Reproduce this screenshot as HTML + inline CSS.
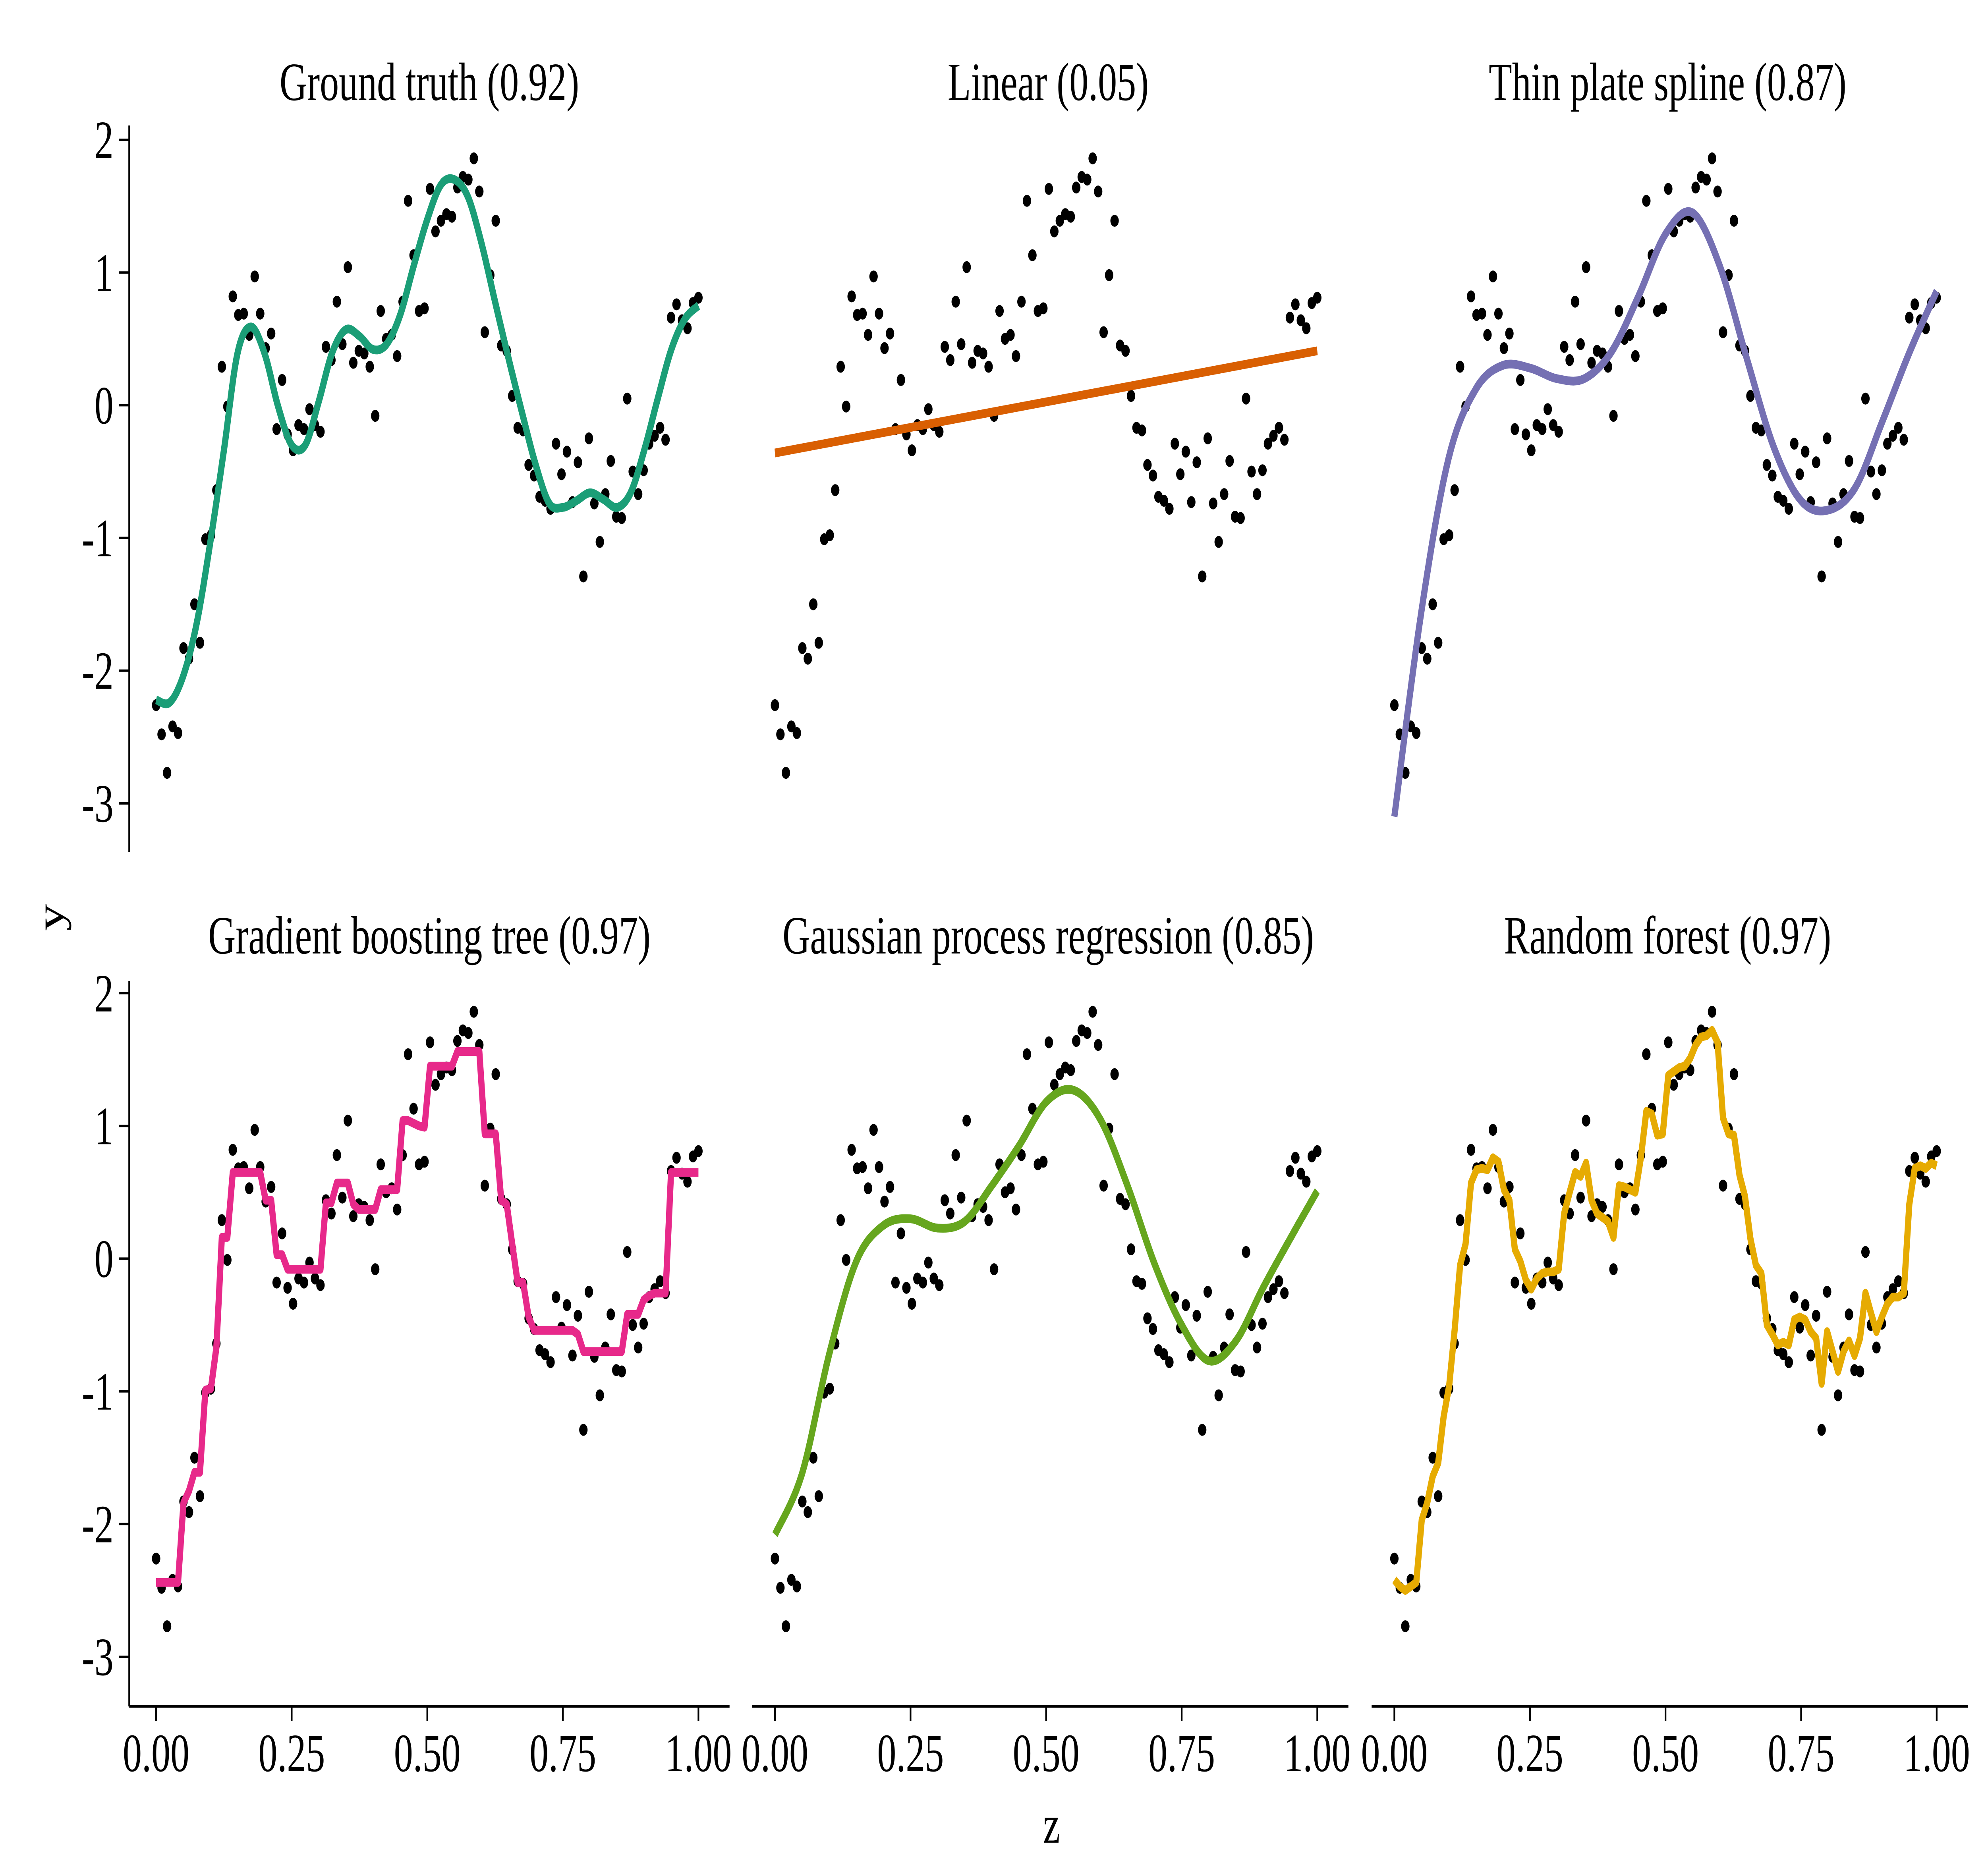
<!DOCTYPE html>
<html><head><meta charset="utf-8"><style>
html,body{margin:0;padding:0;background:#fff;width:100%;height:100%;overflow:hidden;}
svg{display:block;width:100vw;height:100vh;}
text{font-family:"Liberation Serif",serif;fill:#000;}
</style></head><body>
<svg id="chart" xmlns="http://www.w3.org/2000/svg" viewBox="0 0 7086 4724" preserveAspectRatio="none">
<rect width="7086" height="4724" fill="#fff"/>
<text x="0" y="0" font-size="136" text-anchor="middle" transform="translate(225,2310) rotate(-90)">y</text>
<text x="3752" y="4640" font-size="136" text-anchor="middle">z</text>
<g id="layer"></g>
</svg>
<script>
const yPts = [-2.26,-2.48,-2.77,-2.42,-2.47,-1.83,-1.91,-1.50,-1.79,-1.01,-0.98,-0.64,0.29,-0.01,0.82,0.68,0.69,0.53,0.97,0.69,0.43,0.54,-0.18,0.19,-0.22,-0.34,-0.15,-0.18,-0.03,-0.15,-0.20,0.44,0.34,0.78,0.46,1.04,0.32,0.41,0.39,0.29,-0.08,0.71,0.50,0.53,0.37,0.78,1.54,1.13,0.71,0.73,1.63,1.31,1.39,1.44,1.42,1.64,1.72,1.70,1.86,1.61,0.55,0.98,1.39,0.45,0.41,0.07,-0.17,-0.19,-0.45,-0.53,-0.69,-0.72,-0.78,-0.29,-0.52,-0.35,-0.73,-0.43,-1.29,-0.25,-0.74,-1.03,-0.67,-0.42,-0.84,-0.85,0.05,-0.50,-0.67,-0.49,-0.29,-0.23,-0.17,-0.26,0.66,0.76,0.64,0.58,0.77,0.81];
const gtZ = [0,0.025,0.05,0.075,0.1,0.125,0.15,0.175,0.2,0.225,0.25,0.275,0.3,0.325,0.35,0.375,0.4,0.425,0.45,0.475,0.5,0.525,0.55,0.575,0.6,0.625,0.65,0.675,0.7,0.725,0.75,0.775,0.8,0.825,0.85,0.875,0.9,0.925,0.95,0.975,1.0];
const gtY = [-2.22,-2.24,-2.04,-1.64,-1.03,-0.34,0.39,0.59,0.39,-0.01,-0.30,-0.30,0.03,0.40,0.57,0.52,0.42,0.46,0.68,1.05,1.40,1.66,1.70,1.57,1.22,0.78,0.35,-0.06,-0.45,-0.74,-0.77,-0.72,-0.66,-0.71,-0.77,-0.66,-0.34,0.05,0.42,0.65,0.75];
const linZ = [0,1];
const linY = [-0.36,0.41];
const tpsZ = [0,0.05,0.1,0.15,0.2,0.25,0.3,0.35,0.4,0.45,0.5,0.55,0.6,0.65,0.7,0.75,0.8,0.85,0.9,0.95,1.0];
const tpsY = [-3.10,-1.55,-0.40,0.12,0.30,0.28,0.20,0.20,0.40,0.82,1.29,1.45,1.05,0.35,-0.32,-0.72,-0.79,-0.62,-0.12,0.40,0.86];
const gbtY = [-2.44,-2.44,-2.44,-2.44,-2.44,-1.84,-1.75,-1.61,-1.61,-0.99,-0.98,-0.67,0.16,0.16,0.65,0.65,0.65,0.65,0.65,0.65,0.44,0.44,0.03,0.03,-0.08,-0.08,-0.08,-0.08,-0.08,-0.08,-0.08,0.42,0.42,0.57,0.57,0.57,0.41,0.37,0.37,0.37,0.37,0.52,0.52,0.52,0.52,1.04,1.04,1.02,1.00,0.99,1.45,1.45,1.45,1.45,1.45,1.56,1.56,1.56,1.56,1.56,0.94,0.94,0.94,0.44,0.41,0.11,-0.18,-0.18,-0.44,-0.54,-0.54,-0.54,-0.54,-0.54,-0.54,-0.54,-0.54,-0.57,-0.70,-0.70,-0.70,-0.70,-0.70,-0.70,-0.70,-0.70,-0.42,-0.42,-0.42,-0.31,-0.28,-0.26,-0.26,-0.26,0.65,0.65,0.65,0.65,0.65,0.65];
const gpZ = [0,0.05,0.1,0.15,0.2,0.25,0.3,0.35,0.4,0.45,0.5,0.55,0.6,0.65,0.7,0.75,0.8,0.85,0.9,0.95,1.0];
const gpY = [-2.08,-1.62,-0.72,-0.02,0.25,0.30,0.23,0.28,0.55,0.85,1.18,1.27,1.05,0.55,-0.04,-0.50,-0.77,-0.62,-0.22,0.15,0.51];
const rfY = [-2.42,-2.47,-2.50,-2.47,-2.44,-1.97,-1.84,-1.64,-1.54,-1.19,-0.96,-0.54,-0.05,0.11,0.57,0.67,0.68,0.67,0.76,0.73,0.52,0.44,0.07,-0.02,-0.16,-0.23,-0.15,-0.11,-0.10,-0.10,-0.08,0.34,0.50,0.65,0.62,0.72,0.44,0.34,0.31,0.28,0.16,0.55,0.54,0.52,0.50,0.76,1.11,1.09,0.93,0.94,1.38,1.41,1.44,1.45,1.51,1.61,1.67,1.68,1.72,1.63,1.06,0.94,0.93,0.63,0.47,0.15,-0.05,-0.11,-0.50,-0.57,-0.65,-0.63,-0.65,-0.46,-0.44,-0.46,-0.55,-0.60,-0.94,-0.55,-0.70,-0.85,-0.70,-0.62,-0.73,-0.60,-0.26,-0.41,-0.55,-0.44,-0.34,-0.29,-0.29,-0.26,0.41,0.68,0.70,0.68,0.72,0.70];
const titles = ["Ground truth (0.92)","Linear (0.05)","Thin plate spline (0.87)","Gradient boosting tree (0.97)","Gaussian process regression (0.85)","Random forest (0.97)"];
const xTicks = [0,0.25,0.5,0.75,1];
const xTickLabels = ["0.00","0.25","0.50","0.75","1.00"];
const yTicks = [2,1,0,-1,-2,-3];
const yTickLabels = ["2","1","0","-1","-2","-3"];

const NS = "http://www.w3.org/2000/svg";
const layer = document.getElementById('layer');
const colZ0 = [557, 2765, 4975];
const colZW = 1935;
const rowY2 = [352, 2501];
const unitPx = 334.2;
function sx(c, z){ return colZ0[c] + z*colZW; }
function sy(r, v){ return rowY2[r] + (2 - v)*unitPx; }
function mk(tag, attrs, parent){
  const e = document.createElementNS(NS, tag);
  for (const k in attrs) e.setAttribute(k, attrs[k]);
  (parent||layer).appendChild(e);
  return e;
}
function catmull(zs, ys){
  const out=[];
  for(let i=0;i<zs.length-1;i++){
    const p0=[zs[Math.max(i-1,0)],ys[Math.max(i-1,0)]], p1=[zs[i],ys[i]], p2=[zs[i+1],ys[i+1]], p3=[zs[Math.min(i+2,zs.length-1)],ys[Math.min(i+2,zs.length-1)]];
    for(let k=0;k<10;k++){
      const t=k/10,t2=t*t,t3=t2*t;
      const f=(a,b,c,d)=>0.5*((2*b)+(-a+c)*t+(2*a-5*b+4*c-d)*t2+(-a+3*b-3*c+d)*t3);
      out.push([f(p0[0],p1[0],p2[0],p3[0]), f(p0[1],p1[1],p2[1],p3[1])]);
    }
  }
  out.push([zs[zs.length-1], ys[ys.length-1]]);
  return out;
}
const ptZ = yPts.map((_,i)=>i/99);
const series = [
  {pts: catmull(gtZ, gtY), color:"#1b9e77", name:"ground-truth-curve"},
  {pts: linZ.map((z,i)=>[z, linY[i]]), color:"#d95f02", name:"linear-fit-line"},
  {pts: catmull(tpsZ, tpsY), color:"#7570b3", name:"thin-plate-spline-curve"},
  {pts: ptZ.map((z,i)=>[z, gbtY[i]]), color:"#e7298a", name:"gradient-boosting-curve"},
  {pts: catmull(gpZ, gpY), color:"#66a61e", name:"gaussian-process-curve"},
  {pts: ptZ.map((z,i)=>[z, rfY[i]]), color:"#e6ab02", name:"random-forest-curve"}
];
for (let p=0;p<6;p++){
  const r = Math.floor(p/3), c = p%3;
  const g = mk('g', {});
  
  
  const t = mk('text', {x:(colZ0[c]-96+ (colZ0[c]+colZW+111))/2, y: rowY2[r]-100, 'font-size':136, 'text-anchor':'middle'}, g);
  
  
  t.textContent = titles[p];
  const dg = mk('g', {fill:'#000'}, g);
  
  
  for (let i=0;i<yPts.length;i++){
    const d = mk('circle', {cx: sx(c, ptZ[i]).toFixed(1), cy: sy(r, yPts[i]).toFixed(1), r: 15}, dg);
    
    
  }
  const s = series[p];
  const path = mk('path', {d: 'M' + s.pts.map(q=>sx(c,q[0]).toFixed(1)+','+sy(r,q[1]).toFixed(1)).join('L'), fill:'none', stroke:s.color, 'stroke-width':22, 'stroke-linejoin':'round'}, g);
  
  
  if (c===0){
    const top = r===0 ? 316 : 2471, bot = r===0 ? 2145 : 4297;
    const ax = mk('line', {x1:461, x2:461, y1:top, y2:bot, stroke:'#000', 'stroke-width':6}, g);
    
    
    for (let k=0;k<yTicks.length;k++){
      const yy = sy(r, yTicks[k]);
      const tk = mk('line', {x1:424, x2:461, y1:yy, y2:yy, stroke:'#000', 'stroke-width':6}, g);
      
      
      const tl = mk('text', {x:405, y:yy+46, 'font-size':136, 'text-anchor':'end'}, g);
      
      
      tl.textContent = yTickLabels[k];
    }
  }
  if (r===1){
    const x1 = c===0 ? 461 : colZ0[c]-81, x2 = colZ0[c]+colZW+111;
    const ax = mk('line', {x1:x1, x2:x2, y1:4297, y2:4297, stroke:'#000', 'stroke-width':6}, g);
    
    
    for (let k=0;k<xTicks.length;k++){
      const xx = sx(c, xTicks[k]);
      const tk = mk('line', {x1:xx, x2:xx, y1:4297, y2:4334, stroke:'#000', 'stroke-width':6}, g);
      
      
      const tl = mk('text', {x:xx, y:4460, 'font-size':136, 'text-anchor':'middle'}, g);
      
      
      tl.textContent = xTickLabels[k];
    }
  }
}
</script>
</body></html>
